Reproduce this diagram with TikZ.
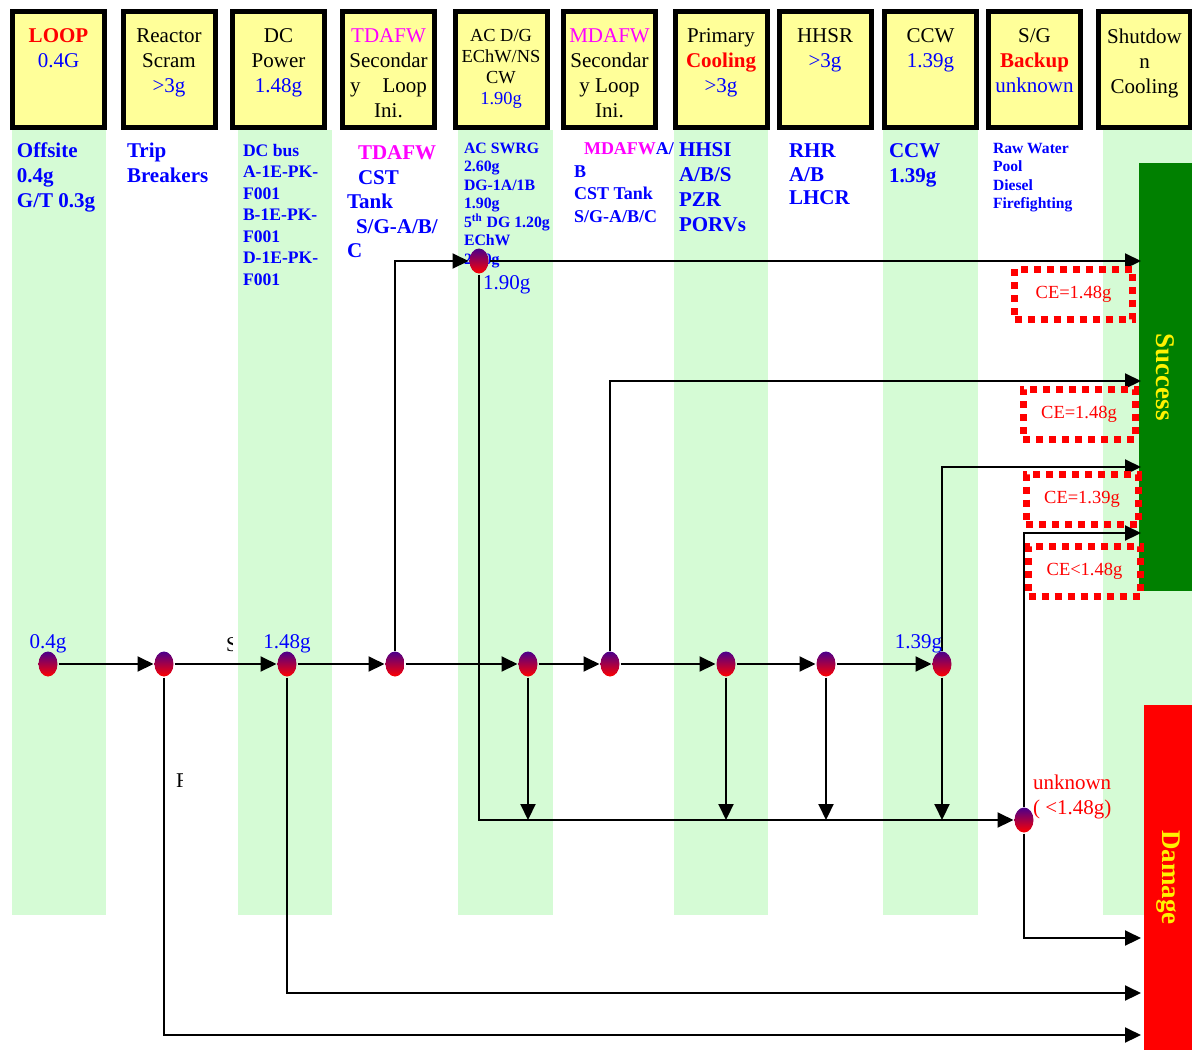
\documentclass[tikz,border=0pt]{standalone}
\usepackage{fontspec}
\setmainfont{Liberation Serif}
\usetikzlibrary{arrows.meta,shapes.geometric,positioning}

\definecolor{hdryellow}{RGB}{255,255,153}
\definecolor{colgreen}{RGB}{213,251,213}
\definecolor{succgreen}{RGB}{0,128,0}
\definecolor{evtop}{RGB}{75,0,140}
\definecolor{pinkm}{RGB}{255,0,255}

\tikzset{
  hdr/.style={draw=black,line width=2.5pt,fill=hdryellow,minimum width=46pt,minimum height=58pt,inner sep=0pt},
  htxt/.style={anchor=north,inner sep=0pt,align=center,font=\fontsize{10.5}{12.5}\selectfont},
  coltxt/.style={anchor=north west,inner sep=0pt,align=left,text=blue,font=\bfseries\fontsize{10.5}{12.5}\selectfont},
  evt/.style={ellipse,minimum width=9.5pt,minimum height=12.5pt,inner sep=0pt,top color=evtop,bottom color=red},
  lbl/.style={inner sep=0pt,text=blue,font=\fontsize{10.5}{12.5}\selectfont},
  cebox/.style={draw=red,line width=3.5pt,dash pattern=on 3.5pt off 3pt,minimum width=56pt,minimum height=25pt,inner sep=0pt,text=red,font=\fontsize{9.25}{11}\selectfont},
  endbox/.style={inner sep=0pt,text=yellow,font=\bfseries\fontsize{13.5}{16}\selectfont}
}

\begin{document}
\begin{tikzpicture}[x=0.5pt,y=-0.5pt,line width=1pt,>={Triangle[length=8pt,width=7.5pt]}]
\useasboundingbox (0,0) rectangle (1192,1050);
% green columns
\fill[colgreen] (12,130) rectangle (106,915);
\fill[colgreen] (238,130) rectangle (332,915);
\fill[colgreen] (458,130) rectangle (553,915);
\fill[colgreen] (674,130) rectangle (768,915);
\fill[colgreen] (883,130) rectangle (978,915);
\fill[colgreen] (1103,130) rectangle (1192,915);

% header boxes
\node[hdr] (h1) at (58.5,69.5) {};
\node[htxt] (t1) at ([yshift=-9.5pt]h1.north) {{\color{red}\bfseries LOOP}\\{\color{blue}0.4G}};
\node[hdr] (h2) at (169,69.5) {};
\node[htxt] (t2) at ([yshift=-9.5pt]h2.north) {Reactor\\Scram\\{\color{blue}>3g}};
\node[hdr] (h3) at (278.5,69.5) {};
\node[htxt] (t3) at ([yshift=-9.5pt]h3.north) {DC\\Power\\{\color{blue}1.48g}};
\node[hdr] (h4) at (388.5,69.5) {};
\node[htxt] (t4) at ([yshift=-9.5pt]h4.north) {{\color{pinkm}TDAFW}\\Secondar\\\makebox[38.5pt]{y\hfill Loop}\\Ini.};
\node[hdr] (h5) at (501,69.5) {};
\node[htxt,font=\fontsize{9.2}{10.5}\selectfont] (t5) at ([yshift=-9.5pt]h5.north) {AC D/G\\EChW/NS\\CW\\{\color{blue}1.90g}};
\node[hdr] (h6) at (609.5,69.5) {};
\node[htxt] (t6) at ([yshift=-9.5pt]h6.north) {{\color{pinkm}MDAFW}\\Secondar\\y Loop\\Ini.};
\node[hdr] (h7) at (721,69.5) {};
\node[htxt] (t7) at ([yshift=-9.5pt]h7.north) {Primary\\{\color{red}\bfseries Cooling}\\{\color{blue}>3g}};
\node[hdr] (h8) at (825,69.5) {};
\node[htxt] (t8) at ([yshift=-9.5pt]h8.north) {HHSR\\{\color{blue}>3g}};
\node[hdr] (h9) at (930.5,69.5) {};
\node[htxt] (t9) at ([yshift=-9.5pt]h9.north) {CCW\\{\color{blue}1.39g}};
\node[hdr] (h10) at (1034.5,69.5) {};
\node[htxt] (t10) at ([yshift=-9.5pt]h10.north) {S/G\\{\color{red}\bfseries Backup}\\{\color{blue}unknown}};
\node[hdr] (h11) at (1144.5,69.5) {};
\node[htxt] (t11) at ([yshift=-9.5pt]h11.north) {Shutdow\\n\\Cooling};

% end states
\node[endbox,fill=succgreen,minimum width=26.5pt,minimum height=214pt] (succ) at (1165.5,377) {\rotatebox{-90}{Success}};
\node[endbox,fill=red,minimum width=24pt,minimum height=172.5pt] (dmg) at (1168,877.5) {\rotatebox{-90}{Damage}};

% component lists
\node[coltxt] (c1) at (16,142) {Offsite\\0.4g\\G/T 0.3g};
\node[coltxt] (c2) at (126,142) {Trip\\Breakers};
\node[coltxt,font=\bfseries\fontsize{8.8}{10.75}\selectfont] (c3) at (242,143) {DC bus\\A-1E-PK-\\F001\\B-1E-PK-\\F001\\D-1E-PK-\\F001};
\node[coltxt,font=\bfseries\fontsize{10.5}{12.25}\selectfont] (c4) at (346,145) {\hspace*{5.5pt}{\color{pinkm}TDAFW}\\\hspace*{5.5pt}CST\\Tank\\\hspace*{4.5pt}S/G-A/B/\\C};
\node[coltxt,font=\bfseries\fontsize{7.9}{9.25}\selectfont] (c5) at (463,142) {AC SWRG\\2.60g\\DG-1A/1B\\1.90g\\5\textsuperscript{th} DG 1.20g\\EChW\\2.60g};
\node[coltxt,font=\bfseries\fontsize{9}{11.25}\selectfont] (c6) at (573,142) {\hspace*{5pt}{\color{pinkm}MDAFW}A/\\B\\CST Tank\\S/G-A/B/C};
\node[coltxt] (c7) at (678,142) {HHSI\\A/B/S\\PZR\\PORVs};
\node[coltxt,font=\bfseries\fontsize{10.5}{11.75}\selectfont] (c8) at (788,143) {RHR\\A/B\\LHCR};
\node[coltxt] (c9) at (888,143) {CCW\\1.39g};
\node[coltxt,font=\bfseries\fontsize{7.8}{9.2}\selectfont] (c10) at (992,142) {Raw Water\\Pool\\Diesel\\Firefighting};

% event nodes
\node[evt] (loopN) at (48,664) {};
\node[evt] (scramN) at (164,664) {};
\node[evt] (dcN) at (287,664) {};
\node[evt] (tdN) at (395,664) {};
\node[evt] (acN) at (528,664) {};
\node[evt] (mdN) at (610,664) {};
\node[evt] (pcN) at (726,664) {};
\node[evt] (hhN) at (826,664) {};
\node[evt] (ccN) at (942,664) {};
\node[evt] (acHi) at (479,261) {};
\node[evt] (sgN) at (1024,820) {};

% arrow ends at the end states
\coordinate (sA) at (1141,261);
\coordinate (sB) at (1141,381);
\coordinate (sC) at (1141,467);
\coordinate (sD) at (1141,533);
\coordinate (dA) at (1141,938);
\coordinate (dB) at (1141,993);
\coordinate (dC) at (1141,1035);

\draw[->] (loopN) -- (scramN);
\draw[->] (scramN) -- (dcN);
\draw[->] (dcN) -- (tdN);
\draw[->] (tdN) -- (acN);
\draw[->] (acN) -- (mdN);
\draw[->] (mdN) -- (pcN);
\draw[->] (pcN) -- (hhN);
\draw[->] (hhN) -- (ccN);
\draw[->] (tdN) |- (acHi);
\draw[->] (acHi) -- (sA);
\draw[->] (acHi) |- (sgN);
\draw[->] (acN) -- (acN |- sgN);
\draw[->] (mdN) |- (sB);
\draw[->] (pcN) -- (pcN |- sgN);
\draw[->] (hhN) -- (hhN |- sgN);
\draw[->] (ccN) -- (ccN |- sgN);
\draw[->] (ccN) |- (sC);
\draw[->] (sgN) |- (sD);
\draw[->] (sgN) |- (dA);
\draw[->] (dcN) |- (dB);
\draw[->] (scramN) |- (dC);

% labels
\node[lbl,above=-2pt of loopN] (loopL) {0.4g};
\node[lbl,above=-2pt of dcN] (dcL) {1.48g};
\node[lbl,anchor=south east] (ccL) at ([xshift=0.5pt,yshift=-2pt]ccN.north) {1.39g};
\node[lbl,anchor=north west] (acL) at ([xshift=1.5pt]acHi.south) {1.90g};
\node[lbl,text=red,anchor=north west,align=left] (sgL) at (1032,774) {unknown\\( <1.48g)};

% capacity boxes
\node[cebox,minimum width=59pt] (ce1) at (1073.5,294) {CE=1.48g};
\node[cebox] (ce2) at (1079,414) {CE=1.48g};
\node[cebox] (ce3) at (1082,499.5) {CE=1.39g};
\node[cebox] (ce4) at (1084.5,571) {CE<1.48g};

% cut-off letters
\begin{scope}
\clip (218,630) rectangle (232,660);
\node[lbl,text=black,anchor=north west] (cutS) at (225,637) {S};
\end{scope}
\begin{scope}
\clip (170,765) rectangle (182,795);
\node[lbl,text=black,anchor=north west] (cutF) at (175,773) {F};
\end{scope}
\end{tikzpicture}
\end{document}
